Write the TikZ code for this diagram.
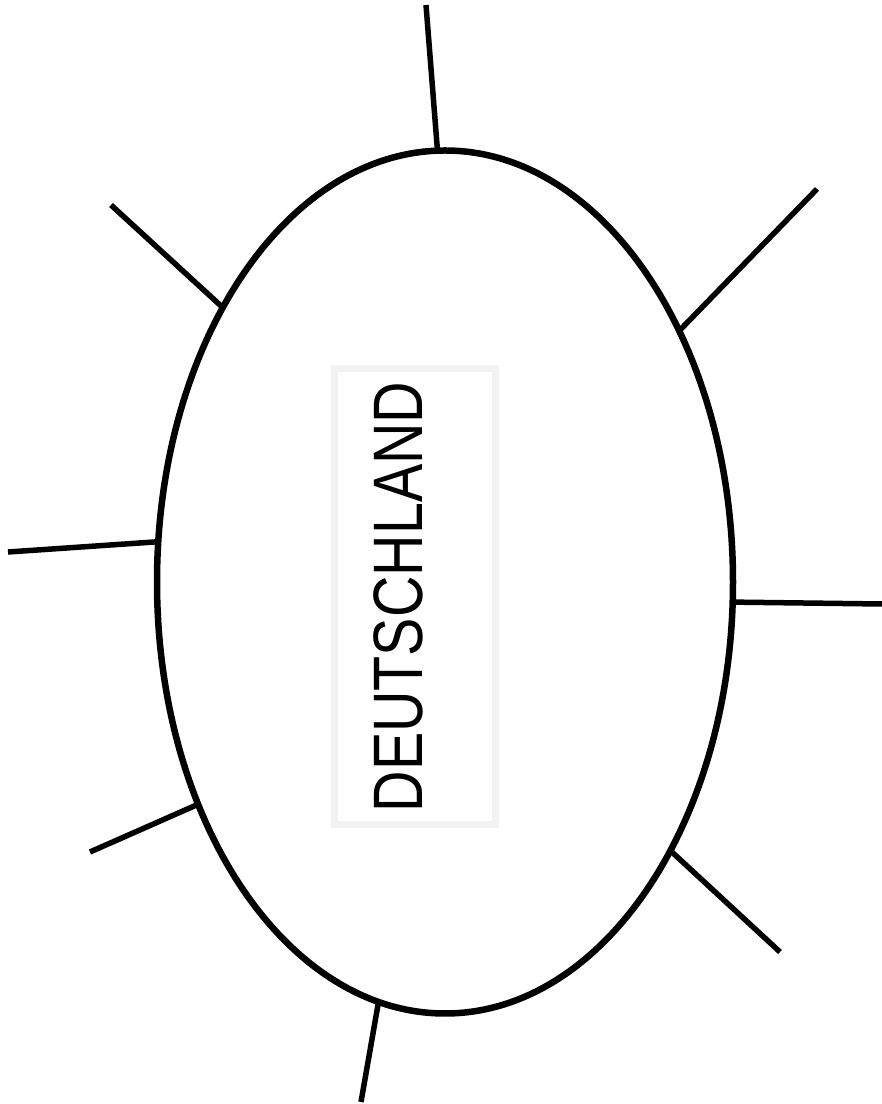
\documentclass[tikz,border=0pt]{standalone}
\usepackage{fontspec}
\setmainfont{Liberation Sans}
\usetikzlibrary{shapes.geometric}
\begin{document}
\begin{tikzpicture}[x=1pt,y=1pt,
  oval/.style={draw=black, line width=6.5pt, ellipse, inner sep=0pt, outer sep=0pt, minimum width=576pt, minimum height=863pt},
  spoke/.style={draw=black, line width=5.5pt},
  labelbox/.style={draw={rgb,255:red,242;green,242;blue,242}, line width=7pt, minimum width=161pt, minimum height=456pt, inner sep=0pt},
  labeltext/.style={rotate=90, inner sep=0pt, font=\fontsize{70}{84}\selectfont}
]
\useasboundingbox (0,0) rectangle (882,1104);
\node[oval] (e) at (445,522) {};
\node[labelbox] (box) at (414.5,507) {};
\node[labeltext] (lbl) at (398,507) {\scalebox{0.82}[1]{DEUTSCHLAND}};
\coordinate (t) at (426,1099);
\coordinate (ur) at (817,915);
\coordinate (r) at (882,500);
\coordinate (lr) at (780,152);
\coordinate (b) at (361,2);
\coordinate (ll) at (90,252);
\coordinate (l) at (8,552);
\coordinate (ul) at (111,899);
\draw[spoke] (e.91.3) -- (t);
\draw[spoke] (e.47.3) -- (ur);
\draw[spoke] (e.-4.3) -- (r);
\draw[spoke] (e.-50.3) -- (lr);
\draw[spoke] (e.261.7) -- (b);
\draw[spoke] (e.222.4) -- (ll);
\draw[spoke] (e.172.1) -- (l);
\draw[spoke] (e.129.6) -- (ul);
\end{tikzpicture}
\end{document}
